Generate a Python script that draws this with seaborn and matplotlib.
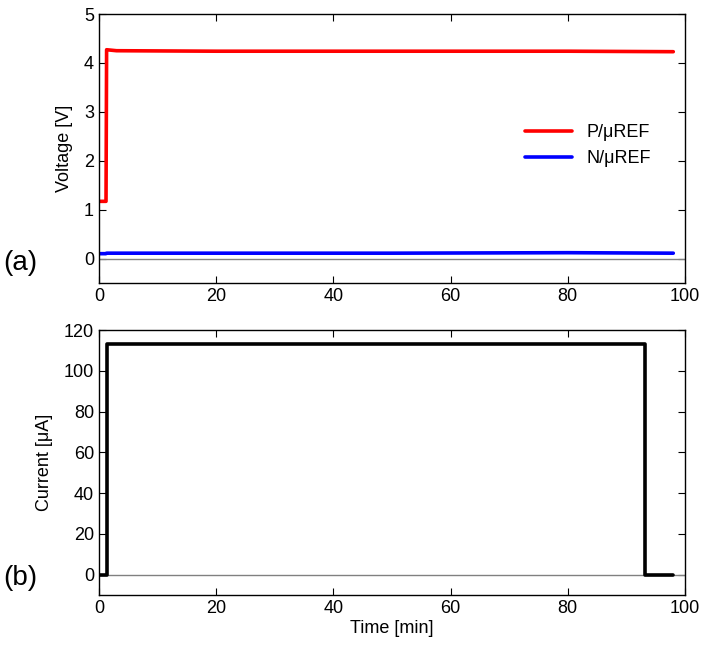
import matplotlib
matplotlib.use("Agg")
import matplotlib.pyplot as plt
import seaborn as sns
import pandas as pd

# ------------------------------------------------
# DATA
# ------------------------------------------------

time_p = [0, 1.2, 1.3, 3, 20, 50, 80, 98]
volt_p = [1.17, 1.17, 4.27, 4.25, 4.24, 4.24, 4.24, 4.23]

time_n = [0, 1.2, 1.3, 20, 50, 80, 98]
volt_n = [0.10, 0.10, 0.11, 0.11, 0.11, 0.12, 0.11]

time_i = [0, 1.3, 1.3, 93.2, 93.2, 98]
current_i = [0, 0, 113, 113, 0, 0]

series_names = ["P/\u03bcREF", "N/\u03bcREF"]
series_colors = ["#ff0000", "#0000ff"]

# ------------------------------------------------
# STYLE
# ------------------------------------------------

sns.set_style("ticks")
plt.rcParams["font.family"] = ["Liberation Sans", "DejaVu Sans"]
for key in ["text.color", "axes.labelcolor", "xtick.color", "ytick.color"]:
    plt.rcParams[key] = "black"
FS = 13

volt_df = pd.concat([
    pd.DataFrame({"t": time_p, "v": volt_p, "s": series_names[0]}),
    pd.DataFrame({"t": time_n, "v": volt_n, "s": series_names[1]}),
], ignore_index=True)

cur_df = pd.DataFrame({"t": time_i, "i": current_i})

fig = plt.figure(figsize=(7.03, 6.5), dpi=100)
ax1 = fig.add_axes([0.1408, 0.5646, 0.8336, 0.4138])
ax2 = fig.add_axes([0.1408, 0.0846, 0.8336, 0.4077])

# ------------------------------------------------
# (a) VOLTAGE
# ------------------------------------------------

ax1.axhline(0, color="#808080", lw=1.0, zorder=1)
sns.lineplot(
    data=volt_df, x="t", y="v", hue="s",
    palette=dict(zip(series_names, series_colors)),
    estimator=None, sort=False, linewidth=2.6, ax=ax1
)
ax1.set_xlim(0, 100)
ax1.set_ylim(-0.5, 5)
ax1.set_yticks([0, 1, 2, 3, 4, 5])
ax1.set_xticks([0, 20, 40, 60, 80, 100])
ax1.set_xlabel("")
ax1.set_ylabel("Voltage [V]", fontsize=FS, labelpad=8)
leg = ax1.legend(
    loc="center left", bbox_to_anchor=(0.70, 0.51), frameon=False,
    fontsize=FS, handlelength=2.6, labelspacing=0.5
)
for line in leg.get_lines():
    line.set_linewidth(2.6)

# ------------------------------------------------
# (b) CURRENT
# ------------------------------------------------

ax2.axhline(0, color="#808080", lw=1.0, zorder=1)
sns.lineplot(
    data=cur_df, x="t", y="i", color="black",
    estimator=None, sort=False, linewidth=2.6, ax=ax2
)
ax2.set_xlim(0, 100)
ax2.set_ylim(-10, 120)
ax2.set_yticks([0, 20, 40, 60, 80, 100, 120])
ax2.set_xticks([0, 20, 40, 60, 80, 100])
ax2.set_xlabel("Time [min]", fontsize=FS, labelpad=2)
ax2.set_ylabel("Current [\u03bcA]", fontsize=FS, labelpad=8)

for ax in (ax1, ax2):
    ax.tick_params(direction="in", top=True, right=True, labelsize=FS,
                   length=5, width=0.8)
    for sp in ax.spines.values():
        sp.set_linewidth(1.0)
        sp.set_color("black")

fig.text(0.005, 0.585, "(a)", fontsize=20)
fig.text(0.005, 0.100, "(b)", fontsize=20)

fig.savefig("out.png", dpi=100)
plt.close(fig)
